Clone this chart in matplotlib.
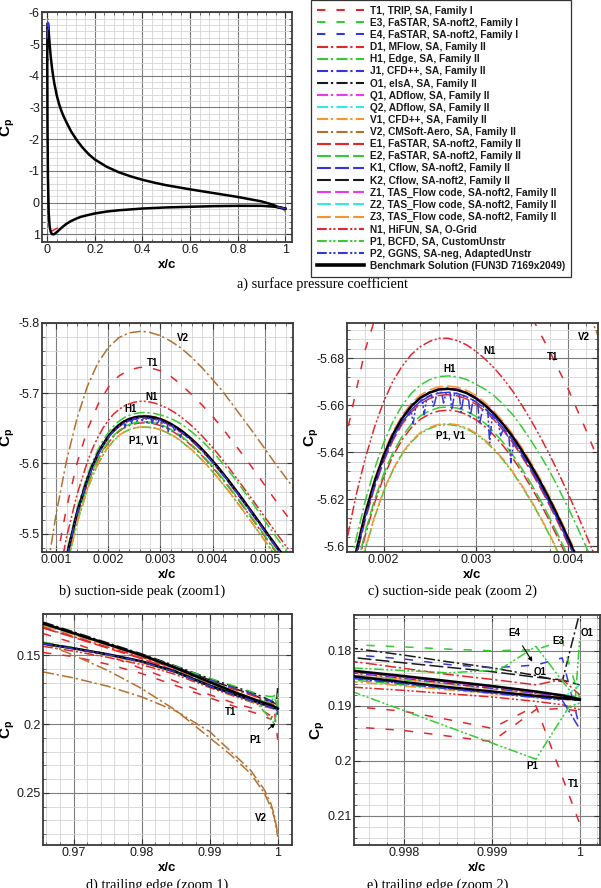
import matplotlib
matplotlib.use("Agg")
import matplotlib.pyplot as plt
from matplotlib.lines import Line2D
from matplotlib.ticker import MultipleLocator, FormatStrFormatter

plt.rcParams["font.family"] = ["Liberation Sans", "DejaVu Sans"]
plt.rcParams["axes.unicode_minus"] = False
plt.rcParams["lines.scale_dashes"] = False
plt.rcParams["mathtext.fontset"] = "custom"
plt.rcParams["mathtext.rm"] = "Liberation Sans"
plt.rcParams["mathtext.bf"] = "Liberation Sans:bold"

# ---------------- legend entries ----------------
codes = ["T1", "E3", "E4", "D1", "H1", "J1", "O1", "Q1", "Q2", "V1", "V2",
         "E1", "E2", "K1", "K2", "Z1", "Z2", "Z3", "N1", "P1", "P2"]
labels = ["T1, TRIP, SA, Family I", "E3, FaSTAR, SA-noft2, Family I",
          "E4, FaSTAR, SA-noft2, Family I", "D1, MFlow, SA, Family II",
          "H1, Edge, SA, Family II", "J1, CFD++, SA, Family II",
          "O1, elsA, SA, Family II", "Q1, ADflow, SA, Family II",
          "Q2, ADflow, SA, Family II", "V1, CFD++, SA, Family II",
          "V2, CMSoft-Aero, SA, Family II", "E1, FaSTAR, SA-noft2, Family II",
          "E2, FaSTAR, SA-noft2, Family II", "K1, Cflow, SA-noft2, Family II",
          "K2, Cflow, SA-noft2, Family II", "Z1, TAS_Flow code, SA-noft2, Family II",
          "Z2, TAS_Flow code, SA-noft2, Family II", "Z3, TAS_Flow code, SA-noft2, Family II",
          "N1, HiFUN, SA, O-Grid", "P1, BCFD, SA, CustomUnstr",
          "P2, GGNS, SA-neg, AdaptedUnstr"]
bench_label = "Benchmark Solution (FUN3D 7169x2049)"

RED, GRN, BLU, BLK = "#e3262b", "#33cc33", "#3535dd", "#1a1a1a"
MAG, CYN, ORG, BRN = "#f035f0", "#33e8e8", "#f7942e", "#b5702f"
DASH = (0, (6, 8))
LDASH = (0, (10, 3))
DDOT = (0, (8, 2, 1.6, 2.4))
DDDOT = (0, (7, 1.8, 1.5, 1.5, 1.5, 1.8))

colors = [RED, GRN, BLU, RED, GRN, BLU, BLK, MAG, CYN, ORG, BRN,
          RED, GRN, BLU, BLK, MAG, CYN, ORG, RED, GRN, BLU]
styles = [DASH, DASH, DASH, DDOT, DDOT, DDOT, DDOT, DDOT, DDOT, DDOT, DDOT,
          LDASH, LDASH, LDASH, LDASH, LDASH, LDASH, LDASH, DDDOT, DDDOT, DDDOT]

# ---------------- full chord benchmark (panel a) ----------------
chord_x_up = [0.0000, 0.0006, 0.0008, 0.0010, 0.0012, 0.0016, 0.0020, 0.0027, 0.0034, 0.0040,
              0.0050, 0.0060, 0.0080, 0.0100, 0.0125, 0.0150, 0.0200, 0.0250, 0.0300, 0.0400,
              0.0500, 0.0600, 0.0700, 0.0850, 0.1000, 0.1250, 0.1500, 0.1750, 0.2000, 0.2500,
              0.3000, 0.3500, 0.4000, 0.4500, 0.5000, 0.6000, 0.7000, 0.8000, 0.9000, 0.9500,
              0.9655, 1.0000]
chord_cp_up = [-4.50, -5.17, -5.29, -5.39, -5.47, -5.58, -5.64, -5.667, -5.65, -5.60,
               -5.50, -5.40, -5.20, -5.00, -4.78, -4.58, -4.25, -3.98, -3.75, -3.38,
               -3.10, -2.88, -2.70, -2.47, -2.25, -1.96, -1.72, -1.52, -1.36, -1.13,
               -0.96, -0.83, -0.72, -0.63, -0.55, -0.42, -0.30, -0.18, -0.04, 0.07,
               0.127, 0.189]
chord_x_lo = [0.0000, 0.0010, 0.0030, 0.0060, 0.0100, 0.0150, 0.0200, 0.0250, 0.0300, 0.0400,
              0.0500, 0.0650, 0.0800, 0.1000, 0.1200, 0.1400, 0.1600, 0.2000, 0.2500, 0.3000,
              0.4000, 0.5000, 0.6000, 0.7000, 0.8000, 0.9000, 0.9500, 0.9655, 1.0000]
chord_cp_lo = [-4.50, -2.50, -0.80, 0.30, 0.75, 0.93, 0.99, 1.00, 0.99, 0.93,
               0.86, 0.76, 0.67, 0.58, 0.51, 0.45, 0.41, 0.34, 0.28, 0.24,
               0.185, 0.15, 0.13, 0.11, 0.10, 0.10, 0.125, 0.1415, 0.189]
stag_x_T1 = [0.014, 0.030, 0.050, 0.067]
stag_T1 = [0.915, 0.85, 0.77, 0.70]

# ---------------- suction peak (panels b, c) ----------------
# coarse stations for the curves that only cross the zoom-2 window at its edges
peak_x = [0.0006, 0.0008, 0.0010, 0.0012, 0.0014, 0.0016, 0.0018, 0.0020, 0.0022, 0.0024,
          0.0026, 0.0027, 0.0028, 0.0030, 0.0032, 0.0034, 0.0036, 0.0038, 0.0040, 0.0042,
          0.0045, 0.0048, 0.0052, 0.0056]
peak_V2 = [-5.3200, -5.4350, -5.5280, -5.6040, -5.6640, -5.7100, -5.7430, -5.7650, -5.7790, -5.7860,
           -5.7880, -5.7878, -5.7865, -5.7820, -5.7740, -5.7640, -5.7510, -5.7360, -5.7195, -5.7020,
           -5.6720, -5.6420, -5.6000, -5.5600]
peak_T1 = [-5.2430, -5.3600, -5.4580, -5.5370, -5.6000, -5.6480, -5.6836, -5.7085, -5.7244, -5.7332,
           -5.7367, -5.7370, -5.7362, -5.7320, -5.7240, -5.7120, -5.6980, -5.6830, -5.6670, -5.6490,
           -5.6200, -5.5900, -5.5480, -5.5080]
# fine stations for the curves inside the zoom-2 window
peak_xf = [0.0006, 0.0008, 0.0010, 0.0012, 0.0014, 0.0016, 0.0017, 0.0018, 0.0019, 0.0020,
           0.0021, 0.0022, 0.0023, 0.0024, 0.0025, 0.0026, 0.0027, 0.0028, 0.0029, 0.0030,
           0.0031, 0.0032, 0.0033, 0.0034, 0.0035, 0.0036, 0.0037, 0.0038, 0.0039, 0.0040,
           0.0041, 0.0042, 0.0043, 0.0045, 0.0048, 0.0052, 0.0056]
peak_bench = [-5.1730, -5.2900, -5.3880, -5.4670, -5.5300, -5.5780, -5.5973, -5.6137, -5.6273, -5.6385,
              -5.6475, -5.6544, -5.6596, -5.6632, -5.6654, -5.6667, -5.6670, -5.6665, -5.6652, -5.6630,
              -5.6600, -5.6562, -5.6517, -5.6466, -5.6407, -5.6343, -5.6274, -5.6199, -5.6119, -5.6035,
              -5.5947, -5.5856, -5.5762, -5.5565, -5.5259, -5.4843, -5.4446]
peak_N1 = [-5.2050, -5.3220, -5.4180, -5.4950, -5.5555, -5.6025, -5.6215, -5.6373, -5.6506, -5.6615,
           -5.6702, -5.6766, -5.6816, -5.6850, -5.6872, -5.6885, -5.6885, -5.6875, -5.6857, -5.6830,
           -5.6797, -5.6758, -5.6712, -5.6660, -5.6600, -5.6535, -5.6465, -5.6390, -5.6309, -5.6225,
           -5.6137, -5.6045, -5.5951, -5.5750, -5.5445, -5.5030, -5.4630]
peak_H1 = [-5.1785, -5.2955, -5.3935, -5.4725, -5.5355, -5.5835, -5.6028, -5.6192, -5.6328, -5.6440,
           -5.6530, -5.6599, -5.6651, -5.6687, -5.6709, -5.6722, -5.6725, -5.6721, -5.6710, -5.6690,
           -5.6668, -5.6640, -5.6603, -5.6560, -5.6507, -5.6449, -5.6387, -5.6320, -5.6244, -5.6165,
           -5.6082, -5.5995, -5.5904, -5.5710, -5.5400, -5.4970, -5.4570]
peak_D1 = [-5.1639, -5.2809, -5.3789, -5.4579, -5.5209, -5.5689, -5.5882, -5.6046, -5.6182, -5.6294,
           -5.6384, -5.6453, -5.6505, -5.6541, -5.6563, -5.6576, -5.6579, -5.6574, -5.6561, -5.6539,
           -5.6509, -5.6471, -5.6426, -5.6375, -5.6316, -5.6252, -5.6183, -5.6108, -5.6028, -5.5944,
           -5.5856, -5.5765, -5.5671, -5.5474, -5.5168, -5.4752, -5.4355]
peak_E2 = [-5.1653, -5.2823, -5.3803, -5.4593, -5.5223, -5.5703, -5.5896, -5.6060, -5.6196, -5.6308,
           -5.6398, -5.6467, -5.6519, -5.6555, -5.6577, -5.6590, -5.6593, -5.6588, -5.6575, -5.6553,
           -5.6523, -5.6485, -5.6440, -5.6389, -5.6330, -5.6266, -5.6197, -5.6122, -5.6042, -5.5958,
           -5.5870, -5.5779, -5.5685, -5.5488, -5.5182, -5.4766, -5.4369]
peak_P1 = [-5.1578, -5.2748, -5.3728, -5.4518, -5.5148, -5.5628, -5.5821, -5.5985, -5.6121, -5.6233,
           -5.6323, -5.6392, -5.6444, -5.6480, -5.6502, -5.6515, -5.6518, -5.6513, -5.6500, -5.6478,
           -5.6448, -5.6410, -5.6365, -5.6314, -5.6255, -5.6191, -5.6122, -5.6047, -5.5967, -5.5883,
           -5.5795, -5.5704, -5.5610, -5.5413, -5.5107, -5.4691, -5.4294]
peak_V1 = [-5.1582, -5.2752, -5.3732, -5.4522, -5.5152, -5.5632, -5.5825, -5.5989, -5.6125, -5.6237,
           -5.6327, -5.6396, -5.6448, -5.6484, -5.6506, -5.6519, -5.6522, -5.6517, -5.6504, -5.6482,
           -5.6452, -5.6414, -5.6369, -5.6318, -5.6259, -5.6195, -5.6126, -5.6051, -5.5971, -5.5887,
           -5.5799, -5.5708, -5.5614, -5.5417, -5.5111, -5.4695, -5.4298]
peak_Z3 = [-5.1742, -5.2912, -5.3892, -5.4682, -5.5312, -5.5792, -5.5985, -5.6149, -5.6285, -5.6397,
           -5.6487, -5.6556, -5.6608, -5.6644, -5.6666, -5.6679, -5.6682, -5.6677, -5.6664, -5.6642,
           -5.6612, -5.6574, -5.6529, -5.6478, -5.6419, -5.6355, -5.6286, -5.6211, -5.6131, -5.6047,
           -5.5959, -5.5868, -5.5774, -5.5577, -5.5271, -5.4855, -5.4458]
peak_Q1 = [-5.1734, -5.2904, -5.3884, -5.4674, -5.5304, -5.5784, -5.5977, -5.6141, -5.6277, -5.6389,
           -5.6479, -5.6548, -5.6600, -5.6636, -5.6658, -5.6671, -5.6674, -5.6669, -5.6656, -5.6634,
           -5.6604, -5.6566, -5.6521, -5.6470, -5.6411, -5.6347, -5.6278, -5.6203, -5.6123, -5.6039,
           -5.5951, -5.5860, -5.5766, -5.5569, -5.5263, -5.4847, -5.4450]
peak_E1 = [-5.1705, -5.2875, -5.3855, -5.4645, -5.5275, -5.5755, -5.5948, -5.6112, -5.6248, -5.6360,
           -5.6450, -5.6519, -5.6571, -5.6607, -5.6629, -5.6642, -5.6645, -5.6640, -5.6627, -5.6605,
           -5.6575, -5.6537, -5.6492, -5.6441, -5.6382, -5.6318, -5.6249, -5.6174, -5.6094, -5.6010,
           -5.5922, -5.5831, -5.5737, -5.5540, -5.5234, -5.4818, -5.4421]
peak_K1 = [-5.1715, -5.2885, -5.3865, -5.4655, -5.5285, -5.5765, -5.5958, -5.6122, -5.6258, -5.6370,
           -5.6460, -5.6529, -5.6581, -5.6617, -5.6639, -5.6652, -5.6655, -5.6650, -5.6637, -5.6615,
           -5.6585, -5.6547, -5.6502, -5.6451, -5.6392, -5.6328, -5.6259, -5.6184, -5.6104, -5.6020,
           -5.5932, -5.5841, -5.5747, -5.5550, -5.5244, -5.4828, -5.4431]
# P2 is noisy near the peak, so it has its own, denser stations
peak_x_P2 = [0.0006, 0.0008, 0.0010, 0.0012, 0.0014, 0.0016, 0.0017, 0.0018, 0.0019, 0.0020,
             0.0021, 0.0022,
             0.00230, 0.00232, 0.00235, 0.00242, 0.00244, 0.00247, 0.00252, 0.00254, 0.00258,
             0.00263, 0.00265, 0.00268, 0.00272, 0.00274, 0.00277, 0.00282, 0.00284, 0.00287,
             0.00292, 0.00294, 0.00297, 0.00302, 0.00304, 0.00308, 0.00313, 0.00315, 0.00318,
             0.00324, 0.00327, 0.00330, 0.00336, 0.00338, 0.00341, 0.00347,
             0.0036, 0.0037, 0.0038, 0.0039, 0.0040, 0.0041, 0.0042, 0.0043, 0.0045, 0.0048,
             0.0052, 0.0056]
peak_P2 = [-5.1715, -5.2885, -5.3865, -5.4655, -5.5285, -5.5765, -5.5958, -5.6122, -5.6258, -5.6370,
           -5.6460, -5.6529,
           -5.6575, -5.6520, -5.6599, -5.6625, -5.6560, -5.6635, -5.6645, -5.6590, -5.6652,
           -5.6655, -5.6610, -5.6655, -5.6655, -5.6580, -5.6652, -5.6648, -5.6570, -5.6642,
           -5.6632, -5.6550, -5.6625, -5.6610, -5.6520, -5.6595, -5.6575, -5.6440, -5.6562,
           -5.6532, -5.6470, -5.6501, -5.6462, -5.6355, -5.6445, -5.6408,
           -5.6328, -5.6259, -5.6184, -5.6104, -5.6020, -5.5932, -5.5841, -5.5747, -5.5550, -5.5244,
           -5.4828, -5.4431]

# ---------------- trailing edge (panels d, e) ----------------
te_x = [0.9655, 0.9700, 0.9750, 0.9800, 0.9850, 0.9900, 0.9940, 0.9970, 0.9974, 0.9980,
        0.9985, 0.9990, 0.9995, 0.9998, 1.0000]
te_bench_up = [0.1269, 0.1340, 0.1420, 0.1500, 0.1592, 0.1695, 0.1775, 0.1829, 0.1836, 0.1846,
               0.1855, 0.1864, 0.1874, 0.1881, 0.1888]
te_bench_lo = [0.1415, 0.1450, 0.1493, 0.1544, 0.1620, 0.1722, 0.1790, 0.1840, 0.1846, 0.1857,
               0.1866, 0.1874, 0.1882, 0.1886, 0.1889]
te_O1 = [0.1258, 0.1330, 0.1410, 0.1490, 0.1578, 0.1670, 0.1735, 0.1785, 0.1795, 0.1808,
         0.1820, 0.1831, 0.1845, 0.1856, 0.1730]
te_K2 = [0.1265, 0.1336, 0.1415, 0.1495, 0.1585, 0.1680, 0.1748, 0.1800, 0.1812, 0.1822,
         0.1830, 0.1838, 0.1848, 0.1853, 0.1862]
te_E3 = [0.1280, 0.1348, 0.1425, 0.1500, 0.1582, 0.1668, 0.1730, 0.1780, 0.1789, 0.1793,
         0.1797, 0.1800, 0.1798, 0.1782, 0.1888]
te_E4 = [0.1290, 0.1355, 0.1430, 0.1505, 0.1590, 0.1680, 0.1745, 0.1795, 0.1807, 0.1815,
         0.1825, 0.1831, 0.1826, 0.1813, 0.1940]
te_D1 = [0.1300, 0.1365, 0.1440, 0.1515, 0.1600, 0.1690, 0.1755, 0.1805, 0.1819, 0.1832,
         0.1843, 0.1852, 0.1862, 0.1852, 0.1880]
te_E1 = [0.1301, 0.1370, 0.1448, 0.1525, 0.1612, 0.1705, 0.1775, 0.1830, 0.1838, 0.1848,
         0.1857, 0.1866, 0.1876, 0.1882, 0.1888]
te_T1a = [0.1342, 0.1410, 0.1500, 0.1597, 0.1690, 0.1787, 0.1855, 0.1895, 0.1901, 0.1910,
          0.1925, 0.1941, 0.1900, 0.2029, 0.2115]
te_T1b = [0.1480, 0.1510, 0.1565, 0.1633, 0.1720, 0.1810, 0.1878, 0.1925, 0.1938, 0.1945,
          0.1955, 0.1965, 0.1907, 0.1905, 0.1910]
te_N1 = [0.1435, 0.1470, 0.1515, 0.1568, 0.1640, 0.1735, 0.1805, 0.1855, 0.1866, 0.1872,
         0.1878, 0.1884, 0.1892, 0.1898, 0.1907]
te_H1 = [0.1405, 0.1445, 0.1492, 0.1545, 0.1615, 0.1715, 0.1785, 0.1837, 0.1845, 0.1853,
         0.1860, 0.1868, 0.1876, 0.1880, 0.1885]
te_E2 = [0.1410, 0.1448, 0.1497, 0.1550, 0.1622, 0.1720, 0.1790, 0.1845, 0.1853, 0.1862,
         0.1869, 0.1876, 0.1883, 0.1887, 0.1890]
te_Z3 = [0.1285, 0.1352, 0.1430, 0.1508, 0.1598, 0.1700, 0.1780, 0.1836, 0.1843, 0.1852,
         0.1861, 0.1870, 0.1879, 0.1884, 0.1888]
te_V1 = [0.1420, 0.1455, 0.1502, 0.1555, 0.1628, 0.1726, 0.1795, 0.1848, 0.1856, 0.1864,
         0.1871, 0.1878, 0.1885, 0.1888, 0.1891]
te_Q2 = [0.1412, 0.1449, 0.1494, 0.1546, 0.1622, 0.1723, 0.1791, 0.1841, 0.1848, 0.1858,
         0.1867, 0.1875, 0.1883, 0.1887, 0.1862]
te_P2 = [0.1416, 0.1452, 0.1495, 0.1547, 0.1623, 0.1724, 0.1793, 0.1843, 0.1850, 0.1860,
         0.1869, 0.1877, 0.1885, 0.1890, 0.1942]
te_K1 = [0.1413, 0.1449, 0.1494, 0.1546, 0.1621, 0.1723, 0.1791, 0.1842, 0.1849, 0.1859,
         0.1868, 0.1876, 0.1884, 0.1888, 0.1890]
te_J1 = [0.1272, 0.1343, 0.1423, 0.1503, 0.1595, 0.1698, 0.1778, 0.1833, 0.1840, 0.1850,
         0.1859, 0.1868, 0.1877, 0.1883, 0.1889]
te_Q1 = [0.1271, 0.1341, 0.1421, 0.1501, 0.1593, 0.1696, 0.1776, 0.1831, 0.1838, 0.1848,
         0.1857, 0.1866, 0.1876, 0.1882, 0.1888]
te_x_P1a = [0.9655, 0.9700, 0.9750, 0.9800, 0.9850, 0.9900, 0.9940, 0.9970, 0.9995, 0.99988, 1.0000]
te_P1a = [0.1410, 0.1448, 0.1495, 0.1548, 0.1625, 0.1725, 0.1795, 0.1850, 0.1997, 0.1901, 0.1895]
te_x_P1b = [0.9655, 0.9700, 0.9750, 0.9800, 0.9850, 0.9900, 0.9940, 0.9970, 0.9985, 0.99908,
            0.9995, 0.99995, 1.0000]
te_P1b = [0.1275, 0.1343, 0.1422, 0.1502, 0.1593, 0.1690, 0.1770, 0.1828, 0.1840, 0.1835,
          0.1792, 0.1886, 0.1777]
te_x_V2 = [0.9655, 0.9700, 0.9750, 0.9800, 0.9850, 0.9900, 0.9930, 0.9960, 0.9980, 0.9990, 0.9995, 1.0000]
te_V2a = [0.1410, 0.1500, 0.1610, 0.1742, 0.1900, 0.2100, 0.2220, 0.2360, 0.2500, 0.2605, 0.2680, 0.2820]
te_V2b = [0.1621, 0.1665, 0.1725, 0.1803, 0.1905, 0.2055, 0.2195, 0.2335, 0.2475, 0.2580, 0.2660, 0.2800]

peak_coarse = {"V2": peak_V2, "T1": peak_T1}
peak_fine = {"N1": peak_N1, "H1": peak_H1, "D1": peak_D1, "E2": peak_E2, "P1": peak_P1,
             "V1": peak_V1, "Z3": peak_Z3, "Q1": peak_Q1, "E1": peak_E1, "K1": peak_K1}
te_curves = [("O1", te_x, te_O1), ("K2", te_x, te_K2), ("E3", te_x, te_E3), ("E4", te_x, te_E4),
             ("D1", te_x, te_D1), ("E1", te_x, te_E1), ("T1", te_x, te_T1a), ("T1", te_x, te_T1b),
             ("N1", te_x, te_N1), ("H1", te_x, te_H1), ("E2", te_x, te_E2), ("Z3", te_x, te_Z3),
             ("V1", te_x, te_V1), ("Q2", te_x, te_Q2), ("K1", te_x, te_K1), ("J1", te_x, te_J1),
             ("Q1", te_x, te_Q1), ("P1", te_x_P1a, te_P1a), ("P1", te_x_P1b, te_P1b),
             ("V2", te_x_V2, te_V2a), ("V2", te_x_V2, te_V2b)]


def line_kw(code):
    i = codes.index(code)
    return dict(color=colors[i], linestyle=styles[i], linewidth=1.1)


def draw_curves(ax, full_chord=False):
    for code, ys in peak_coarse.items():
        ax.plot(peak_x, ys, zorder=2, **line_kw(code))
    for code, ys in peak_fine.items():
        ax.plot(peak_xf, ys, zorder=2, **line_kw(code))
    for code, xs, ys in te_curves:
        ax.plot(xs, ys, zorder=2, **line_kw(code))
    bkw = dict(color="black", linewidth=1.8, zorder=3, solid_joinstyle="round")
    if full_chord:
        ax.plot(stag_x_T1, stag_T1, zorder=2, **line_kw("T1"))
        ax.plot(chord_x_up, chord_cp_up, **bkw)
        ax.plot(chord_x_lo, chord_cp_lo, **bkw)
    else:
        ax.plot(peak_xf, peak_bench, **bkw)
        ax.plot(te_x, te_bench_up, **bkw)
        ax.plot(te_x, te_bench_lo, **bkw)
    ax.plot(peak_x_P2, peak_P2, zorder=4, **line_kw("P2"))
    ax.plot(te_x, te_P2, zorder=4, **line_kw("P2"))


def style_axes(ax, xlim, ylim, xstep, ystep, xlab_y, ylab_x):
    ax.set_xlim(*xlim)
    ax.set_ylim(*ylim)
    ax.xaxis.set_major_locator(MultipleLocator(xstep))
    ax.xaxis.set_minor_locator(MultipleLocator(xstep / 5))
    ax.yaxis.set_major_locator(MultipleLocator(ystep))
    ax.yaxis.set_minor_locator(MultipleLocator(ystep / 5))
    ax.xaxis.set_major_formatter(FormatStrFormatter("%g"))
    ax.yaxis.set_major_formatter(FormatStrFormatter("%g"))
    ax.grid(which="major", color="#7d7d7d", linewidth=0.8)
    ax.grid(which="minor", color="#d4d4d4", linewidth=0.6)
    ax.set_axisbelow(True)
    ax.tick_params(which="major", direction="in", length=4, top=True, right=True,
                   labelsize=9, pad=1.5, colors="#333333", labelcolor="#1a1a1a")
    ax.tick_params(which="minor", direction="in", length=2, top=True, right=True, colors="#555555")
    for sp in ax.spines.values():
        sp.set_linewidth(1.3)
        sp.set_color("#3a3a3a")
    ax.set_xlabel("x/c", fontsize=9.5, fontweight="bold")
    ax.set_ylabel(r"$\mathbf{C_p}$", fontsize=11)
    ax.xaxis.set_label_coords(0.5, xlab_y)
    ax.yaxis.set_label_coords(ylab_x, 0.5)


W, H = 601, 888
fig = plt.figure(figsize=(W / 100, H / 100), dpi=100)


def add_ax(left, top, right, bottom):
    return fig.add_axes([left / W, 1 - bottom / H, (right - left) / W, (bottom - top) / H])


ax_a = add_ax(42, 12, 292, 242)
ax_b = add_ax(42, 323, 293, 552)
ax_c = add_ax(347, 323, 598, 552)
ax_d = add_ax(43, 614, 292, 845)
ax_e = add_ax(354, 615, 600, 845)

draw_curves(ax_a, full_chord=True)
for ax in (ax_b, ax_c, ax_d, ax_e):
    draw_curves(ax)

style_axes(ax_a, (-0.022, 1.028), (1.24, -6.01), 0.2, 1, -0.074, -0.10)
style_axes(ax_b, (0.00073, 0.00554), (-5.474, -5.80), 0.001, 0.1, -0.073, -0.10)
style_axes(ax_c, (0.001603, 0.004325), (-5.5976, -5.695), 0.001, 0.02, -0.073, -0.104)
style_axes(ax_d, (0.9655, 1.0021), (0.288, 0.120), 0.01, 0.05, -0.072, -0.103)
style_axes(ax_e, (0.99743, 1.00023), (0.2153, 0.1735), 0.001, 0.01, -0.072, -0.11)

# ---------------- curve labels ----------------
tkw = dict(fontsize=7, fontweight="bold", ha="center", va="center", zorder=6)
for x, y, s in [(0.00344, -5.778, "V2"), (0.00285, -5.7435, "T1"), (0.00283, -5.694, "N1"),
                (0.00242, -5.6775, "H1"), (0.00267, -5.6334, "P1, V1")]:
    ax_b.text(x, y, s, **tkw)
for x, y, s in [(0.003149, -5.6832, "N1"), (0.003833, -5.6804, "T1"), (0.004169, -5.6889, "V2"),
                (0.002712, -5.6754, "H1"), (0.002723, -5.6472, "P1, V1")]:
    ax_c.text(x, y, s, **tkw)
ax_d.text(0.99303, 0.1910, "T1", **tkw)
ax_d.text(0.99754, 0.2685, "V2", **tkw)
akw = dict(arrowstyle="-|>", color="black", lw=0.8, mutation_scale=6, shrinkA=4, shrinkB=0)
ax_d.annotate("P1", xy=(0.99965, 0.1995), xytext=(0.9967, 0.2116), zorder=6,
              fontsize=7, fontweight="bold", ha="center", va="center", arrowprops=akw)
ax_e.annotate("E4", xy=(0.99946, 0.18199), xytext=(0.99926, 0.17683), zorder=6,
              fontsize=7, fontweight="bold", ha="center", va="center", arrowprops=akw)
for x, y, s in [(0.99976, 0.17817, "E3"), (1.00008, 0.17672, "O1"), (0.99955, 0.1838, "O1"),
                (0.99946, 0.20088, "P1"), (0.99993, 0.20421, "T1")]:
    ax_e.text(x, y, s, **tkw)

# ---------------- legend ----------------
handles = [Line2D([], [], color=colors[i], linestyle=styles[i], linewidth=1.5) for i in range(len(codes))]
handles.append(Line2D([], [], color="black", linewidth=2.6))
leg = fig.legend(handles, labels + [bench_label], loc="upper left",
                 bbox_to_anchor=(311 / W, 1.0), frameon=True, fancybox=False,
                 edgecolor="#333333", framealpha=1, fontsize=7.3, handlelength=4.63,
                 handletextpad=0.59, labelspacing=0.21, borderpad=0.57, borderaxespad=0)
leg.get_frame().set_linewidth(0.9)
for t in leg.get_texts():
    t.set_fontweight("bold")
    t.set_color("#1a1a1a")

# ---------------- captions ----------------
ckw = dict(family="Liberation Serif", fontsize=10.3, ha="center", va="center")
fig.text(322 / W, 1 - 284 / H, "a) surface pressure coefficient", **ckw)
fig.text(142 / W, 1 - 591 / H, "b) suction-side peak (zoom1)", **ckw)
fig.text(453 / W, 1 - 591 / H, "c) suction-side peak (zoom 2)", **ckw)
fig.text(157 / W, 1 - 885 / H, "d) trailing edge (zoom 1)", **ckw)
fig.text(438 / W, 1 - 885 / H, "e) trailing edge (zoom 2)", **ckw)

fig.savefig("out.png", dpi=100)
